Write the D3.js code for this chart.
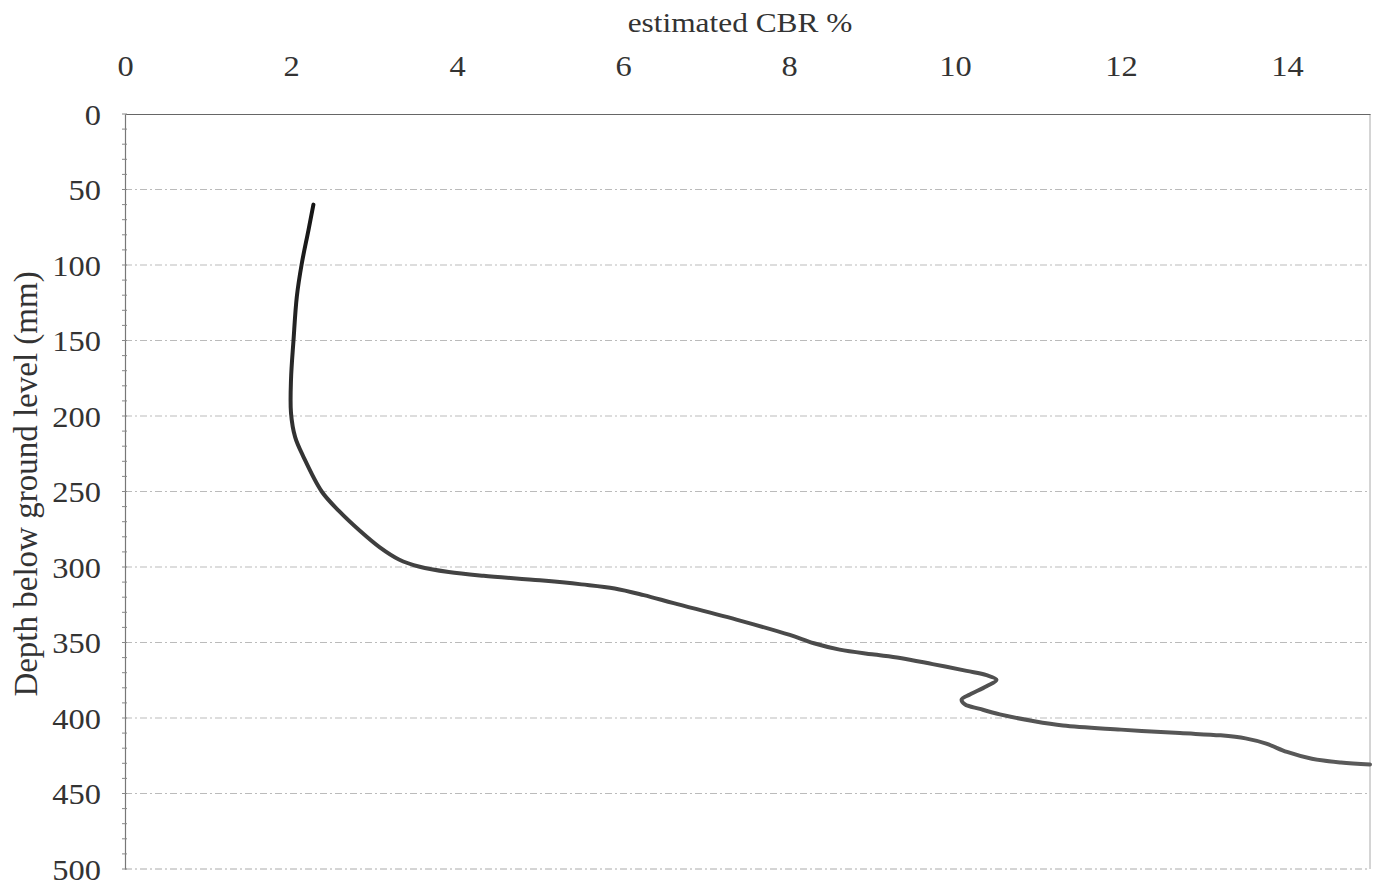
<!DOCTYPE html>
<html>
<head>
<meta charset="utf-8">
<script src="https://cdn.jsdelivr.net/npm/d3@7"></script>
<style>
  html, body { margin: 0; padding: 0; background: #fff; }
  svg { display: block; }
  text { font-family: "Liberation Serif", "Times New Roman", serif; fill: #333; }
</style>
</head>
<body>
<svg id="chart" width="1380" height="883"></svg>
<script>
// ---- data ----
const cbrValues = [2.27, 2.21, 2.13, 2.07, 2.03, 2.00, 2.00, 2.05, 2.15, 2.37, 2.58, 2.83, 3.07, 3.30, 3.55, 3.90, 4.32, 5.00, 5.50, 5.90, 6.25, 6.61, 7.41, 8.01, 8.30, 8.61, 9.00, 9.34, 9.73, 10.14, 10.38, 10.50, 10.38, 10.18, 10.08, 10.12, 10.30, 10.54, 10.94, 11.30, 12.00, 12.71, 13.20, 13.50, 13.75, 14.00, 14.30, 14.65, 15.00];
const depthValues = [60, 77, 99, 121, 150, 176, 198, 214, 227, 250, 263, 276, 287, 295, 299.8, 303.3, 305.8, 308.8, 311.5, 314.2, 318.6, 323.9, 335.5, 345, 350.5, 354.7, 357.8, 360.2, 364.3, 368.8, 371.6, 374.7, 379, 384.4, 387.7, 391, 394, 397.6, 402, 405, 407.7, 410, 411.5, 413.5, 417, 422.5, 427, 429.5, 430.8];
const xTicks = [0, 2, 4, 6, 8, 10, 12, 14];
const yTicks = [0, 50, 100, 150, 200, 250, 300, 350, 400, 450, 500];
const xTitle = "estimated CBR %";
const yTitle = "Depth below ground level (mm)";

// ---- layout ----
const mLeft = 125, mRight = 1370, mTop = 114, mBottom = 869;
const sx = 1.12; // horizontal stretch of the scanned lettering
const svg = d3.select("#chart");
const x = d3.scaleLinear().domain([0, 15]).range([mLeft, mRight]);
const y = d3.scaleLinear().domain([0, 500]).range([mTop, mBottom]);

// gridlines
svg.append("g").selectAll("line").data(yTicks.filter(d => d > 0)).join("line")
  .attr("x1", mLeft).attr("x2", mRight)
  .attr("y1", d => y(d)).attr("y2", d => y(d))
  .attr("stroke", d => d === 500 ? "#aaa" : "#bbb")
  .attr("stroke-width", 1)
  .attr("stroke-dasharray", "7,3,2,3");

// right border
svg.append("line").attr("x1", mRight).attr("x2", mRight).attr("y1", mTop).attr("y2", mBottom)
  .attr("stroke", "#aaa").attr("stroke-width", 1);

// top axis
const xAxis = d3.axisTop(x).tickValues(xTicks).tickSize(0).tickPadding(0).tickFormat(d3.format("d"));
const gx = svg.append("g").attr("transform", `translate(0,${mTop})`).call(xAxis);
gx.select(".domain").attr("stroke", "#666").attr("stroke-width", 1.2);
gx.selectAll("text").attr("y", -48).attr("dy", "0.35em").style("font-size", "29px").attr("fill", "#333")
  .attr("transform", `scale(${sx},1)`);

// left axis
const yAxis = d3.axisLeft(y).tickValues(yTicks).tickSize(0).tickPadding(0);
const gy = svg.append("g").attr("transform", `translate(${mLeft},0)`).call(yAxis);
gy.select(".domain").attr("stroke", "#777").attr("stroke-width", 1.2);
gy.selectAll("text").attr("x", 0).attr("dy", "0.35em").style("font-size", "29px").attr("fill", "#333")
  .attr("transform", `translate(-24,0) scale(${sx},1)`);

// minor ticks on left axis
svg.append("g").selectAll("line").data(d3.range(0, 501, 10)).join("line")
  .attr("x1", mLeft - 3).attr("x2", mLeft + 2)
  .attr("y1", d => y(d)).attr("y2", d => y(d))
  .attr("stroke", "#888").attr("stroke-width", 1);

// titles
svg.append("text").attr("transform", `translate(740,22) scale(${sx},1)`).attr("dy", "0.35em")
  .attr("text-anchor", "middle").style("font-size", "28px").text(xTitle);
svg.append("text").attr("transform", `translate(25,484) rotate(-90)`)
  .attr("dy", "0.35em").attr("text-anchor", "middle").style("font-size", "33px").text(yTitle);

// gradient for the line
const defs = svg.append("defs");
const grad = defs.append("linearGradient").attr("id", "lg")
  .attr("gradientUnits", "userSpaceOnUse")
  .attr("x1", 0).attr("y1", y(60)).attr("x2", 0).attr("y2", y(431));
grad.append("stop").attr("offset", "0%").attr("stop-color", "#151515");
grad.append("stop").attr("offset", "100%").attr("stop-color", "#5a5a5a");

// curve
const pts = cbrValues.map((v, i) => [v, depthValues[i]]);
const line = d3.line().x(d => x(d[0])).y(d => y(d[1])).curve(d3.curveCatmullRom.alpha(0.5));
svg.append("path").datum(pts)
  .attr("d", line)
  .attr("fill", "none")
  .attr("stroke", "url(#lg)")
  .attr("stroke-width", 4)
  .attr("stroke-linecap", "round")
  .attr("stroke-linejoin", "round");
</script>
</body>
</html>
